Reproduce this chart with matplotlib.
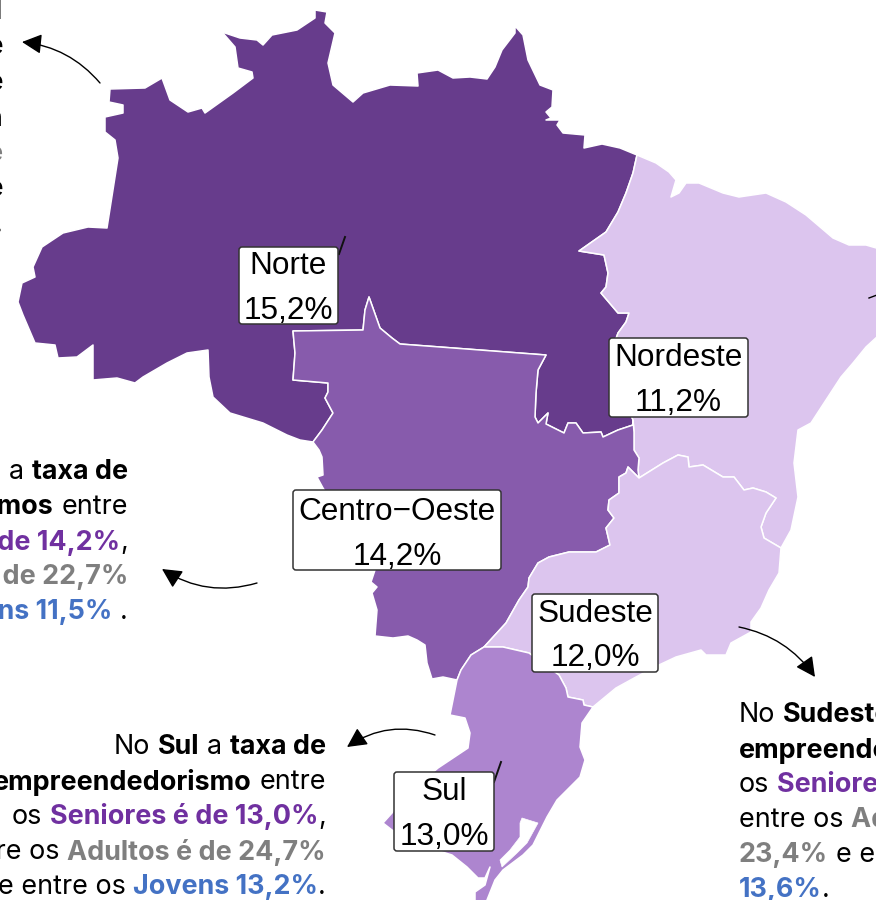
import matplotlib
matplotlib.use('Agg')
import matplotlib.pyplot as plt
from matplotlib.colors import BoundaryNorm, ListedColormap
from matplotlib.patches import FancyArrowPatch, FancyBboxPatch, Polygon

# dados do mapa
regioes = ['Norte', 'Nordeste', 'Centro-Oeste', 'Sudeste', 'Sul']
taxas = [15.2, 11.2, 14.2, 12.0, 13.0]
rotulos_nome = ['Norte', 'Nordeste', 'Centro\u2212Oeste', 'Sudeste', 'Sul']
rotulos_taxa = ['15,2%', '11,2%', '14,2%', '12,0%', '13,0%']

faixas = [11, 12.5, 13.5, 14.5, 15.5]
cores_faixas = ['#DCC5EE', '#AD85CF', '#875BAC', '#673C8C']

# contornos em pixels da imagem, trechos compartilhados entre regioes
costa_norte = [(110, 89), (145, 88), (162, 78), (170, 100), (188, 112), (202, 108), (205, 113), (233, 93),
               (253, 78), (252, 72), (238, 68), (235, 47), (222, 32), (240, 38), (257, 40), (263, 45),
               (272, 35), (297, 30), (315, 18), (315, 10), (327, 12), (325, 23), (335, 33), (328, 63),
               (333, 85), (353, 102), (363, 93), (390, 85), (418, 86), (417, 73), (438, 70), (453, 78),
               (470, 77), (487, 79), (495, 67), (502, 50), (515, 33), (515, 26), (523, 35), (528, 60),
               (540, 85), (553, 90), (552, 107), (546, 112), (551, 118), (546, 120), (560, 120), (557, 125),
               (563, 133), (585, 135), (584, 148), (602, 144), (620, 148), (637, 155)]
norte_nordeste = [(637, 155), (633, 173), (626, 193), (618, 212), (606, 232), (579, 251), (604, 255), (608, 273),
                  (606, 287), (601, 293), (618, 313), (629, 313), (626, 322), (618, 333), (612, 350), (625, 400),
                  (633, 420)]
norte_centro = [(633, 420), (633, 425), (618, 430), (603, 437), (601, 432), (583, 433), (576, 423), (568, 423),
                (564, 433), (546, 424), (548, 413), (538, 423), (535, 417), (536, 393), (538, 370), (546, 355),
                (440, 347), (400, 344), (392, 338), (380, 328), (369, 297), (365, 310), (363, 330), (293, 331),
                (295, 353), (293, 380), (328, 383), (328, 392), (325, 398), (333, 413), (322, 430), (313, 442)]
oeste_norte = [(313, 442), (300, 440), (287, 435), (263, 423), (230, 413), (213, 397), (209, 377), (208, 350),
               (187, 353), (167, 363), (143, 377), (135, 383), (117, 378), (93, 380), (93, 345), (77, 357),
               (58, 358), (55, 345), (35, 343), (23, 315), (18, 302), (22, 283), (35, 277), (33, 267),
               (42, 247), (63, 233), (88, 227), (107, 228), (118, 158), (115, 140), (105, 132), (105, 117),
               (123, 113), (123, 105), (109, 102), (110, 89)]
costa_nordeste = [(637, 155), (656, 163), (669, 172), (676, 180), (671, 197), (679, 193), (686, 183), (699, 183),
                  (723, 193), (739, 197), (766, 193), (786, 202), (806, 215), (833, 238), (849, 245), (866, 245),
                  (890, 252), (890, 325), (866, 347), (853, 363), (841, 377), (826, 400), (811, 423), (798, 430),
                  (794, 463), (798, 497), (791, 530), (781, 548)]
nordeste_sudeste = [(781, 548), (764, 538), (761, 527), (766, 513), (776, 498), (766, 492), (753, 488), (744, 490),
                    (734, 477), (723, 477), (703, 465), (689, 467), (688, 457), (678, 455), (663, 463), (639, 478)]
nordeste_centro = [(633, 420), (634, 432), (634, 450), (639, 458), (638, 470), (639, 478)]
centro_sudeste = [(639, 478), (628, 467), (626, 473), (619, 477), (619, 493), (609, 500), (608, 510), (614, 518),
                  (606, 528), (610, 545), (596, 552), (569, 552), (549, 557), (538, 563), (529, 578), (528, 587),
                  (519, 600), (506, 623), (484, 647)]
centro_sul = [(484, 647), (471, 655), (461, 670), (457, 680)]
sudeste_sul = [(484, 647), (503, 647), (529, 653), (559, 675), (566, 688), (568, 697), (583, 700), (584, 705),
               (593, 707)]
costa_sudeste = [(781, 548), (779, 573), (769, 590), (761, 608), (751, 622), (751, 632), (731, 643), (726, 655),
                 (706, 655), (701, 650), (676, 657), (659, 665), (636, 677), (616, 688), (593, 707)]
costa_sul = [(593, 707), (582, 723), (580, 747), (585, 760), (580, 777), (557, 800), (547, 817), (533, 845),
             (523, 855), (503, 870), (495, 880), (485, 905), (475, 905), (475, 892), (485, 885), (490, 867),
             (485, 878), (478, 878), (467, 867), (452, 855), (420, 845), (392, 830), (383, 823), (392, 813),
             (400, 800), (438, 768), (450, 760), (468, 748), (470, 733), (465, 718), (450, 715), (455, 690),
             (457, 680)]
lagoa_sul = [(522, 818), (538, 823), (527, 843), (517, 853), (502, 867), (500, 860), (510, 850), (520, 837),
             (520, 823)]
oeste_centro = [(457, 680), (443, 677), (432, 679), (427, 663), (425, 645), (417, 640), (408, 636), (393, 638),
                (375, 636), (377, 610), (372, 593), (377, 587), (371, 582), (375, 570), (350, 530), (323, 488),
                (317, 477), (323, 475), (322, 457), (319, 450), (313, 442)]

contornos = {
    'Norte': costa_norte + norte_nordeste + norte_centro + oeste_norte,
    'Nordeste': costa_nordeste + nordeste_sudeste + nordeste_centro[::-1] + norte_nordeste[::-1],
    'Centro-Oeste': norte_centro[::-1] + nordeste_centro + centro_sudeste + centro_sul + oeste_centro,
    'Sudeste': nordeste_sudeste[::-1] + costa_sudeste + sudeste_sul[::-1] + centro_sudeste[::-1],
    'Sul': sudeste_sul + costa_sul + centro_sul[::-1],
}

# textos: (trecho, estilo) por linha
texto_topo = [[('l', 'n')], [('e', 'n')], [('e', 'n')], [('n', 'n')], [('é', 'c')], [('e', 'n')], [('.', 'n')]]
texto_centro = [
    [('No ', 'n'), ('Centro-Oeste', 'b'), (' a ', 'n'), ('taxa de', 'b')],
    [('empreendedorismos', 'b'), (' entre', 'n')],
    [('os ', 'n'), ('Seniores é de 14,2%', 'p'), (',', 'n')],
    [('entre os ', 'n'), ('Adultos é de 22,7%', 'c')],
    [('e entre os ', 'n'), ('Jovens 11,5%', 'a'), (' .', 'n')],
]
texto_sul = [
    [('No ', 'n'), ('Sul', 'b'), (' a ', 'n'), ('taxa de', 'b')],
    [('empreendedorismo', 'b'), (' entre', 'n')],
    [('os ', 'n'), ('Seniores é de 13,0%', 'p'), (',', 'n')],
    [('entre os ', 'n'), ('Adultos é de 24,7%', 'c')],
    [('e entre os ', 'n'), ('Jovens 13,2%', 'a'), ('.', 'n')],
]
texto_sudeste = [
    [('No ', 'n'), ('Sudeste', 'b'), (' a ', 'n'), ('taxa de', 'b')],
    [('empreendedorismo', 'b'), (' entre', 'n')],
    [('os ', 'n'), ('Seniores é de 12,0%', 'p'), (',', 'n')],
    [('entre os ', 'n'), ('Adultos é de', 'c')],
    [('23,4%', 'c'), (' e entre os ', 'n'), ('Jovens', 'a')],
    [('13,6%', 'a'), ('.', 'n')],
]

estilos = {
    'n': ('black', 'normal'),
    'b': ('black', 'bold'),
    'p': ('#7030A0', 'bold'),
    'c': ('#7F7F7F', 'bold'),
    'a': ('#4472C4', 'bold'),
}
FONTE_TEXTO = 'Inter'
TAM_TEXTO = 19.4

fig = plt.figure(figsize=(8.76, 9), dpi=100)
ax = fig.add_axes([0, 0, 1, 1])
ax.set_xlim(0, 876)
ax.set_ylim(900, 0)
ax.axis('off')
renderer = fig.canvas.get_renderer()


def largura(trecho, peso):
    # mede com barras nas pontas para nao perder os espacos
    t1 = ax.text(0, 0, '|' + trecho + '|', fontsize=TAM_TEXTO, family=FONTE_TEXTO, weight=peso)
    t2 = ax.text(0, 0, '||', fontsize=TAM_TEXTO, family=FONTE_TEXTO, weight=peso)
    w = t1.get_window_extent(renderer).width - t2.get_window_extent(renderer).width
    t1.remove()
    t2.remove()
    return w


def escreve_linha(linha, x, y, alinhado='left'):
    larguras = [largura(t, estilos[e][1]) for t, e in linha]
    if alinhado == 'right':
        x = x - sum(larguras)
    for (t, e), w in zip(linha, larguras):
        cor, peso = estilos[e]
        recuo = largura(' ', peso) if t.startswith(' ') else 0
        ax.text(x + recuo, y, t.strip(' '), color=cor, weight=peso, fontsize=TAM_TEXTO,
                family=FONTE_TEXTO, va='center_baseline', ha='left')
        x += w


def escreve_bloco(linhas, x, y0, passo, alinhado='left'):
    for i, linha in enumerate(linhas):
        escreve_linha(linha, x, y0 + i * passo, alinhado)


cmap = ListedColormap(cores_faixas)
norm = BoundaryNorm(faixas, cmap.N)

for regiao, taxa in zip(regioes, taxas):
    ax.add_patch(Polygon(contornos[regiao], closed=True, facecolor=cmap(norm(taxa)),
                         edgecolor='white', linewidth=1.1, joinstyle='round'))
ax.add_patch(Polygon(lagoa_sul, closed=True, facecolor='white', edgecolor='white', linewidth=0.5))

# caixas dos rotulos
caixas = [(239, 247, 99, 77), (609, 338, 139, 79), (293, 490, 208, 80), (532, 594, 126, 78), (394, 772, 100, 79)]
pos_nome = [266.5, 358.5, 512.5, 613.5, 792.5]
pos_taxa = [311, 403, 557, 658, 837]
ax.plot([339, 345], [254, 237], color='#111111', lw=1.4)
ax.plot([494, 501], [782, 762], color='#111111', lw=1.4)
for (x, y, w, h), nome, taxa, yn, yt in zip(caixas, rotulos_nome, rotulos_taxa, pos_nome, pos_taxa):
    ax.add_patch(FancyBboxPatch((x + 2, y + 2), w - 4, h - 4, boxstyle='round,pad=2,rounding_size=3',
                                facecolor='white', edgecolor='#333333', linewidth=1.1, zorder=3))
    ax.text(x + w / 2, yn, nome, ha='center', va='center', fontsize=22.7, family='Liberation Sans', zorder=4)
    ax.text(x + w / 2, yt, taxa, ha='center', va='center', fontsize=22.7, family='Liberation Sans', zorder=4)

escreve_bloco(texto_topo, 3, 9, 35.5, 'right')
escreve_bloco(texto_centro, 128, 469, 35, 'right')
escreve_bloco(texto_sul, 326, 744, 35, 'right')
escreve_bloco(texto_sudeste, 739, 712, 35)

# setas
setas = [((100, 83), (22, 42), 0.2), ((257, 583), (162, 569), -0.23), ((435, 735), (347, 747), 0.25),
         ((739, 627), (815, 677), -0.2)]
for inicio, fim, curva in setas:
    ax.add_patch(FancyArrowPatch(inicio, fim, connectionstyle=f'arc3,rad={curva}', arrowstyle='-|>,head_length=0.75,head_width=0.38',
                                 mutation_scale=16, color='black', lw=1, shrinkA=0, shrinkB=0, zorder=5))
ax.plot([869, 877], [298, 295], color='black', lw=1)

fig.savefig('out.png', dpi=100)
